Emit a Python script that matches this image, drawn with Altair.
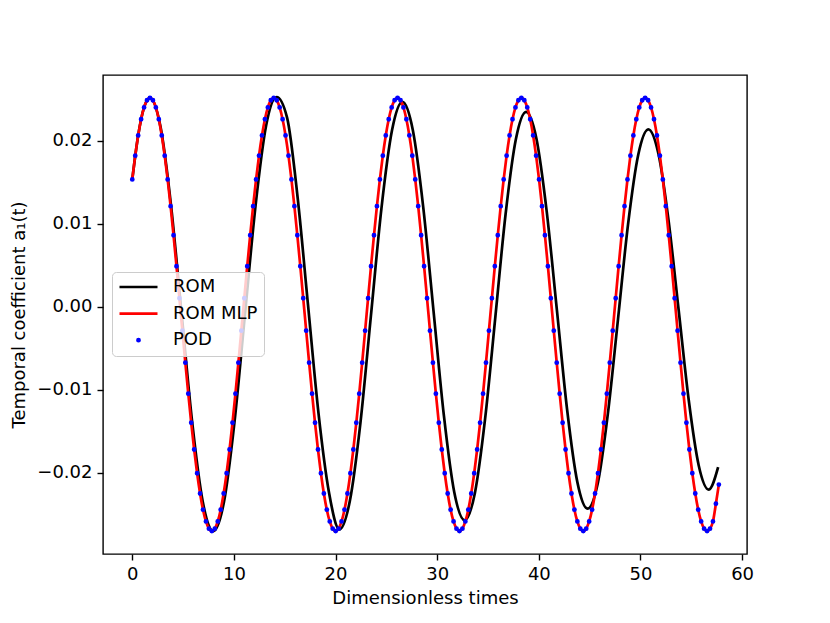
import altair as alt
import pandas as pd

# ---------------- data ----------------
series_names = ["ROM", "ROM MLP", "POD"]
series_colors = ["#000000", "#ff0000", "#0000ff"]
legend_shapes = ["stroke", "stroke", "circle"]
legend_sizes = [1444, 1444, 4.5]

x_ticks = [0, 10, 20, 30, 40, 50, 60]
y_ticks = [-0.02, -0.01, 0.0, 0.01, 0.02]

pod_times = [
    0.0, 0.29, 0.58, 0.87, 1.16, 1.45, 1.74, 2.03, 2.32, 2.61, 2.9, 3.19, 3.48, 3.77, 4.06, 4.35, 4.64, 4.93, 5.22, 5.51,
    5.8, 6.09, 6.38, 6.67, 6.96, 7.25, 7.54, 7.83, 8.12, 8.41, 8.7, 8.99, 9.28, 9.57, 9.86, 10.15, 10.44, 10.73, 11.02, 11.31,
    11.6, 11.89, 12.18, 12.47, 12.76, 13.05, 13.34, 13.63, 13.92, 14.21, 14.5, 14.79, 15.08, 15.37, 15.66, 15.95, 16.24, 16.53, 16.82, 17.11,
    17.4, 17.69, 17.98, 18.27, 18.56, 18.85, 19.14, 19.43, 19.72, 20.01, 20.3, 20.59, 20.88, 21.17, 21.46, 21.75, 22.04, 22.33, 22.62, 22.91,
    23.2, 23.49, 23.78, 24.07, 24.36, 24.65, 24.94, 25.23, 25.52, 25.81, 26.1, 26.39, 26.68, 26.97, 27.26, 27.55, 27.84, 28.13, 28.42, 28.71,
    29.0, 29.29, 29.58, 29.87, 30.16, 30.45, 30.74, 31.03, 31.32, 31.61, 31.9, 32.19, 32.48, 32.77, 33.06, 33.35, 33.64, 33.93, 34.22, 34.51,
    34.8, 35.09, 35.38, 35.67, 35.96, 36.25, 36.54, 36.83, 37.12, 37.41, 37.7, 37.99, 38.28, 38.57, 38.86, 39.15, 39.44, 39.73, 40.02, 40.31,
    40.6, 40.89, 41.18, 41.47, 41.76, 42.05, 42.34, 42.63, 42.92, 43.21, 43.5, 43.79, 44.08, 44.37, 44.66, 44.95, 45.24, 45.53, 45.82, 46.11,
    46.4, 46.69, 46.98, 47.27, 47.56, 47.85, 48.14, 48.43, 48.72, 49.01, 49.3, 49.59, 49.88, 50.17, 50.46, 50.75, 51.04, 51.33, 51.62, 51.91,
    52.2, 52.49, 52.78, 53.07, 53.36, 53.65, 53.94, 54.23, 54.52, 54.81, 55.1, 55.39, 55.68, 55.97, 56.26, 56.55, 56.84, 57.13, 57.42, 57.71,
]

pod_values = [
    0.01537, 0.01823, 0.02067, 0.02262, 0.02404, 0.02491, 0.02520, 0.02491, 0.02404, 0.02262, 0.02067, 0.01823, 0.01537, 0.01215,
    0.00864, 0.00491, 0.00105, -0.00285, -0.00671, -0.01044, -0.01395, -0.01717, -0.02003, -0.02247, -0.02442, -0.02584, -0.02671, -0.02700,
    -0.02671, -0.02584, -0.02442, -0.02247, -0.02003, -0.01717, -0.01395, -0.01044, -0.00671, -0.00285, 0.00105, 0.00491, 0.00864, 0.01215,
    0.01537, 0.01823, 0.02067, 0.02262, 0.02404, 0.02491, 0.02520, 0.02491, 0.02404, 0.02262, 0.02067, 0.01823, 0.01537, 0.01215,
    0.00864, 0.00491, 0.00105, -0.00285, -0.00671, -0.01044, -0.01395, -0.01717, -0.02003, -0.02247, -0.02442, -0.02584, -0.02671, -0.02700,
    -0.02671, -0.02584, -0.02442, -0.02247, -0.02003, -0.01717, -0.01395, -0.01044, -0.00671, -0.00285, 0.00105, 0.00491, 0.00864, 0.01215,
    0.01537, 0.01823, 0.02067, 0.02262, 0.02404, 0.02491, 0.02520, 0.02491, 0.02404, 0.02262, 0.02067, 0.01823, 0.01537, 0.01215,
    0.00864, 0.00491, 0.00105, -0.00285, -0.00671, -0.01044, -0.01395, -0.01717, -0.02003, -0.02247, -0.02442, -0.02584, -0.02671, -0.02700,
    -0.02671, -0.02584, -0.02442, -0.02247, -0.02003, -0.01717, -0.01395, -0.01044, -0.00671, -0.00285, 0.00105, 0.00491, 0.00864, 0.01215,
    0.01537, 0.01823, 0.02067, 0.02262, 0.02404, 0.02491, 0.02520, 0.02491, 0.02404, 0.02262, 0.02067, 0.01823, 0.01537, 0.01215,
    0.00864, 0.00491, 0.00105, -0.00285, -0.00671, -0.01044, -0.01395, -0.01717, -0.02003, -0.02247, -0.02442, -0.02584, -0.02671, -0.02700,
    -0.02671, -0.02584, -0.02442, -0.02247, -0.02003, -0.01717, -0.01395, -0.01044, -0.00671, -0.00285, 0.00105, 0.00491, 0.00864, 0.01215,
    0.01537, 0.01823, 0.02067, 0.02262, 0.02404, 0.02491, 0.02520, 0.02491, 0.02404, 0.02262, 0.02067, 0.01823, 0.01537, 0.01215,
    0.00864, 0.00491, 0.00105, -0.00285, -0.00671, -0.01044, -0.01395, -0.01717, -0.02003, -0.02247, -0.02442, -0.02584, -0.02671, -0.02700,
    -0.02671, -0.02584, -0.02370, -0.02140,
]

# ROM MLP curve lies on top of the POD samples in the figure
rom_mlp_values = [
    0.01537, 0.01823, 0.02067, 0.02262, 0.02404, 0.02491, 0.02520, 0.02491, 0.02404, 0.02262, 0.02067, 0.01823, 0.01537, 0.01215,
    0.00864, 0.00491, 0.00105, -0.00285, -0.00671, -0.01044, -0.01395, -0.01717, -0.02003, -0.02247, -0.02442, -0.02584, -0.02671, -0.02700,
    -0.02671, -0.02584, -0.02442, -0.02247, -0.02003, -0.01717, -0.01395, -0.01044, -0.00671, -0.00285, 0.00105, 0.00491, 0.00864, 0.01215,
    0.01537, 0.01823, 0.02067, 0.02262, 0.02404, 0.02491, 0.02520, 0.02491, 0.02404, 0.02262, 0.02067, 0.01823, 0.01537, 0.01215,
    0.00864, 0.00491, 0.00105, -0.00285, -0.00671, -0.01044, -0.01395, -0.01717, -0.02003, -0.02247, -0.02442, -0.02584, -0.02671, -0.02700,
    -0.02671, -0.02584, -0.02442, -0.02247, -0.02003, -0.01717, -0.01395, -0.01044, -0.00671, -0.00285, 0.00105, 0.00491, 0.00864, 0.01215,
    0.01537, 0.01823, 0.02067, 0.02262, 0.02404, 0.02491, 0.02520, 0.02491, 0.02404, 0.02262, 0.02067, 0.01823, 0.01537, 0.01215,
    0.00864, 0.00491, 0.00105, -0.00285, -0.00671, -0.01044, -0.01395, -0.01717, -0.02003, -0.02247, -0.02442, -0.02584, -0.02671, -0.02700,
    -0.02671, -0.02584, -0.02442, -0.02247, -0.02003, -0.01717, -0.01395, -0.01044, -0.00671, -0.00285, 0.00105, 0.00491, 0.00864, 0.01215,
    0.01537, 0.01823, 0.02067, 0.02262, 0.02404, 0.02491, 0.02520, 0.02491, 0.02404, 0.02262, 0.02067, 0.01823, 0.01537, 0.01215,
    0.00864, 0.00491, 0.00105, -0.00285, -0.00671, -0.01044, -0.01395, -0.01717, -0.02003, -0.02247, -0.02442, -0.02584, -0.02671, -0.02700,
    -0.02671, -0.02584, -0.02442, -0.02247, -0.02003, -0.01717, -0.01395, -0.01044, -0.00671, -0.00285, 0.00105, 0.00491, 0.00864, 0.01215,
    0.01537, 0.01823, 0.02067, 0.02262, 0.02404, 0.02491, 0.02520, 0.02491, 0.02404, 0.02262, 0.02067, 0.01823, 0.01537, 0.01215,
    0.00864, 0.00491, 0.00105, -0.00285, -0.00671, -0.01044, -0.01395, -0.01717, -0.02003, -0.02247, -0.02442, -0.02584, -0.02671, -0.02700,
    -0.02671, -0.02584, -0.02370, -0.02140,
]

rom_times = [
    0.0, 0.58, 1.16, 1.74, 2.78, 3.82, 4.86, 5.90, 6.94, 7.98, 9.02, 10.05, 11.09, 12.13, 13.16,
    14.2, 15.23, 16.26, 17.29, 18.32, 19.35, 20.38, 21.41, 22.45, 23.48, 24.51, 25.55,
    26.58, 27.60, 28.62, 29.64, 30.66, 31.68, 32.7, 33.71, 34.72, 35.73, 36.73, 37.74,
    38.75, 39.76, 40.77, 41.78, 42.78, 43.79, 44.8, 45.80, 46.79, 47.79, 48.78, 49.78,
    50.77, 51.76, 52.75, 53.75, 54.74, 55.73, 56.72, 57.64,
]
rom_values = [
    0.01537, 0.02067, 0.02404, 0.0252, 0.0217, 0.01215, -0.0009, -0.01395, -0.0235, -0.0270, -0.0235, -0.01393, -0.00085, 0.01223, 0.0218,
    0.0253, 0.02281, 0.01328, 0.00025, -0.01278, -0.02231, -0.0268, -0.02335, -0.01393, -0.00105, 0.01183, 0.02125,
    0.0247, 0.02132, 0.0121, -0.0005, -0.0131, -0.02232, -0.0257, -0.0224, -0.0134, -0.0011, 0.0112, 0.0202,
    0.0235, 0.0203, 0.01155, -0.0004, -0.01235, -0.0211, -0.0243, -0.02124, -0.01288, -0.00145, 0.00998, 0.01834,
    0.0214, 0.01849, 0.01055, -0.0003, -0.01115, -0.01909, -0.0220, -0.0193,
]

rom_df = pd.DataFrame({"t": rom_times, "value": rom_values, "series": "ROM"})
mlp_df = pd.DataFrame({"t": pod_times, "value": rom_mlp_values, "series": "ROM MLP"})
pod_df = pd.DataFrame({"t": pod_times, "value": pod_values, "series": "POD"})

FONT = "DejaVu Sans"

x_enc = alt.X(
    "t:Q",
    scale=alt.Scale(domain=[-2.88, 60.48], nice=False, zero=False),
    axis=alt.Axis(values=x_ticks, format="d", title="Dimensionless times", titlePadding=6),
)
y_enc = alt.Y(
    "value:Q",
    scale=alt.Scale(domain=[-0.02976, 0.02795], nice=False, zero=False),
    axis=alt.Axis(values=y_ticks, format=".2f", title="Temporal coefficient a\u2081(t)", titlePadding=8),
)
color_scale = alt.Scale(domain=series_names, range=series_colors)

legend = alt.Legend(
    title=None,
    orient="none",
    legendX=9,
    legendY=197,
    fillColor="rgba(255,255,255,0.8)",
    strokeColor="#cccccc",
    cornerRadius=4,
    padding=6,
    labelFont=FONT,
    labelFontSize=18,
    labelColor="black",
    labelOffset=14,
    clipHeight=18,
    rowPadding=8.6,
    symbolStrokeWidth=2.7,
    symbolFillColor="#0000ff",
    symbolOpacity=1,
)

rom_line = alt.Chart(rom_df).mark_line(strokeWidth=2.7, interpolate="monotone").encode(
    x=x_enc, y=y_enc, color=alt.Color("series:N", scale=color_scale, legend=legend)
)
mlp_line = alt.Chart(mlp_df).mark_line(strokeWidth=2.7, interpolate="monotone").encode(
    x=x_enc, y=y_enc, color=alt.Color("series:N", scale=color_scale, legend=legend)
)
pod_pts = alt.Chart(pod_df).mark_point(filled=False, fill="#0000ff", strokeWidth=2.7, opacity=1).encode(
    x=x_enc,
    y=y_enc,
    color=alt.Color("series:N", scale=color_scale, legend=legend),
    shape=alt.Shape("series:N", scale=alt.Scale(domain=series_names, range=legend_shapes), legend=legend),
    size=alt.Size("series:N", scale=alt.Scale(type="ordinal", domain=series_names, range=legend_sizes), legend=legend),
)

chart = (
    alt.layer(rom_line, mlp_line, pod_pts)
    .properties(
        width=644,
        height=479,
        autosize=alt.AutoSizeParams(type="none"),
        padding={"left": 95, "top": 67, "right": 75, "bottom": 61},
    )
    .configure(font=FONT, background="white")
    .configure_axis(
        labelFont=FONT,
        titleFont=FONT,
        labelFontSize=18,
        titleFontSize=18,
        labelColor="black",
        titleColor="black",
        titleFontWeight="normal",
        tickColor="black",
        tickWidth=1.4,
        tickSize=6,
        labelPadding=5,
        grid=False,
        domain=False,
    )
    .configure_view(stroke="black", strokeWidth=1.4)
)

chart.save("out.html", embed_options={"renderer": "svg", "actions": False})
